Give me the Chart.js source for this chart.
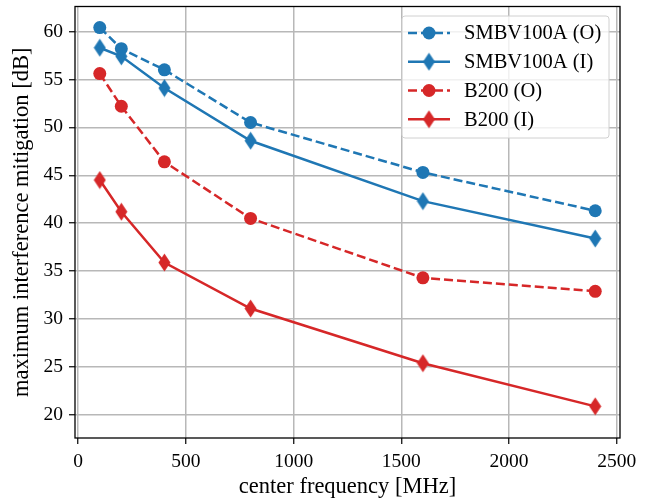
<!DOCTYPE html>
<html>
<head>
<meta charset="utf-8">
<script src="https://cdn.jsdelivr.net/npm/chart.js@4.4.1/dist/chart.umd.min.js"></script>
<style>
  html, body { margin: 0; padding: 0; background: #fff; }
  #wrap { width: 651px; height: 499px; }
</style>
</head>
<body>
<div id="wrap"><canvas id="mitigationChart"></canvas></div>
<script>
// values
const freqs = [100, 200, 400, 800, 1600, 2400];
const smbvOuter = [60.4, 58.2, 56.0, 50.5, 45.3, 41.3];
const smbvInner = [58.3, 57.4, 54.1, 48.6, 42.3, 38.4];
const b200Outer = [55.6, 52.2, 46.4, 40.5, 34.3, 32.9];
const b200Inner = [44.5, 41.2, 35.9, 31.1, 25.4, 20.9];
const xTicks = [0, 500, 1000, 1500, 2000, 2500];
const yTicks = [20, 25, 30, 35, 40, 45, 50, 55, 60];
const seriesLabels = ["SMBV100A (O)", "SMBV100A (I)", "B200 (O)", "B200 (I)"];

const BLUE = "#1f77b4";
const RED = "#d62728";
const FONT = "'Liberation Serif', 'Times New Roman', serif";

// thin diamond marker like matplotlib's "d"
function thinDiamond(color) {
    const c = document.createElement("canvas");
    c.width = 13;
    c.height = 19;
    const ctx = c.getContext("2d");
    ctx.fillStyle = color;
    ctx.beginPath();
    ctx.moveTo(6.5, 0.5);
    ctx.lineTo(12.5, 9.5);
    ctx.lineTo(6.5, 18.5);
    ctx.lineTo(0.5, 9.5);
    ctx.closePath();
    ctx.fill();
    return c;
}

function pts(values) {
    return values.map((v, i) => ({ x: freqs[i], y: v }));
}

function makeSet(label, values, color, dashed, marker) {
    return {
        label: label,
        data: pts(values),
        borderColor: color,
        backgroundColor: color,
        borderWidth: 2.5,
        borderDash: dashed ? [9, 4] : [],
        pointStyle: marker === "d" ? thinDiamond(color) : "circle",
        pointRadius: 6.5,
        pointBorderWidth: 0,
        pointHoverRadius: 6.5,
        tension: 0,
    };
}

// spines around the plot area
const framePlugin = {
    id: "frame",
    afterDraw(chart) {
        const { ctx, chartArea: a } = chart;
        ctx.save();
        ctx.strokeStyle = "#000";
        ctx.lineWidth = 1.3;
        ctx.strokeRect(a.left, a.top, a.right - a.left, a.bottom - a.top);
        ctx.restore();
    },
};

// matplotlib style legend box in the upper right
const legendPlugin = {
    id: "mplLegend",
    afterDraw(chart) {
        const { ctx } = chart;
        const x0 = 402, y0 = 16, w = 207, h = 122;
        ctx.save();
        ctx.globalAlpha = 0.8;
        ctx.fillStyle = "#fff";
        ctx.beginPath();
        ctx.roundRect(x0, y0, w, h, 3);
        ctx.fill();
        ctx.globalAlpha = 1;
        ctx.strokeStyle = "#d0d0d0";
        ctx.lineWidth = 1;
        ctx.stroke();

        const rows = [33, 61.7, 90.5, 119.3];
        chart.data.datasets.forEach((ds, i) => {
            const y = rows[i];
            ctx.strokeStyle = ds.borderColor;
            ctx.lineWidth = ds.borderWidth;
            ctx.setLineDash(ds.borderDash);
            ctx.beginPath();
            ctx.moveTo(408, y);
            ctx.lineTo(450, y);
            ctx.stroke();
            ctx.setLineDash([]);
            if (ds.pointStyle === "circle") {
                ctx.fillStyle = ds.backgroundColor;
                ctx.beginPath();
                ctx.arc(429, y, 6.5, 0, Math.PI * 2);
                ctx.fill();
            } else {
                const img = ds.pointStyle;
                ctx.drawImage(img, 429 - img.width / 2, y - img.height / 2);
            }
            ctx.fillStyle = "#000";
            ctx.font = "20.5px " + FONT;
            ctx.textBaseline = "middle";
            ctx.fillText(ds.label, 464, y + 1);
        });
        ctx.restore();
    },
};

const canvas = document.getElementById("mitigationChart");

new Chart(canvas, {
    type: "line",
    data: {
        datasets: [
            makeSet(seriesLabels[0], smbvOuter, BLUE, true, "o"),
            makeSet(seriesLabels[1], smbvInner, BLUE, false, "d"),
            makeSet(seriesLabels[2], b200Outer, RED, true, "o"),
            makeSet(seriesLabels[3], b200Inner, RED, false, "d"),
        ],
    },
    options: {
        responsive: true,
        maintainAspectRatio: false,
        animation: false,
        layout: { padding: { top: 6, right: 31, left: 0, bottom: 0 } },
        plugins: {
            legend: { display: false },
            tooltip: { enabled: false },
        },
        scales: {
            x: {
                type: "linear",
                min: -15,
                max: 2515,
                afterFit: (s) => { s.height = 61; },
                afterBuildTicks: (s) => { s.ticks = xTicks.map((v) => ({ value: v })); },
                border: { display: false },
                grid: {
                    color: "#b8b8b8",
                    lineWidth: 1.5,
                    tickColor: "#000",
                    tickLength: 6,
                    tickWidth: 1.2,
                },
                ticks: {
                    color: "#000",
                    padding: 6,
                    maxRotation: 0,
                    font: { family: FONT, size: 19.5 },
                    callback: (v) => String(v),
                },
                title: {
                    display: true,
                    text: "center frequency [MHz]",
                    color: "#000",
                    font: { family: FONT, size: 22.5 },
                    padding: { top: 0, bottom: -2 },
                },
            },
            y: {
                min: 17.6,
                max: 62.6,
                afterFit: (s) => {
                    s.width = 75;
                    s.paddingTop = 0;
                    s.paddingBottom = 0;
                },
                afterBuildTicks: (s) => { s.ticks = yTicks.map((v) => ({ value: v })); },
                border: { display: false },
                grid: {
                    color: "#b8b8b8",
                    lineWidth: 1.5,
                    tickColor: "#000",
                    tickLength: 6,
                    tickWidth: 1.2,
                },
                ticks: {
                    color: "#000",
                    padding: 6,
                    font: { family: FONT, size: 19.5 },
                },
                title: {
                    display: true,
                    text: "maximum interference mitigation [dB]",
                    color: "#000",
                    font: { family: FONT, size: 22.5 },
                    padding: { top: 9, bottom: 0 },
                },
            },
        },
    },
    plugins: [framePlugin, legendPlugin],
});
</script>
</body>
</html>
